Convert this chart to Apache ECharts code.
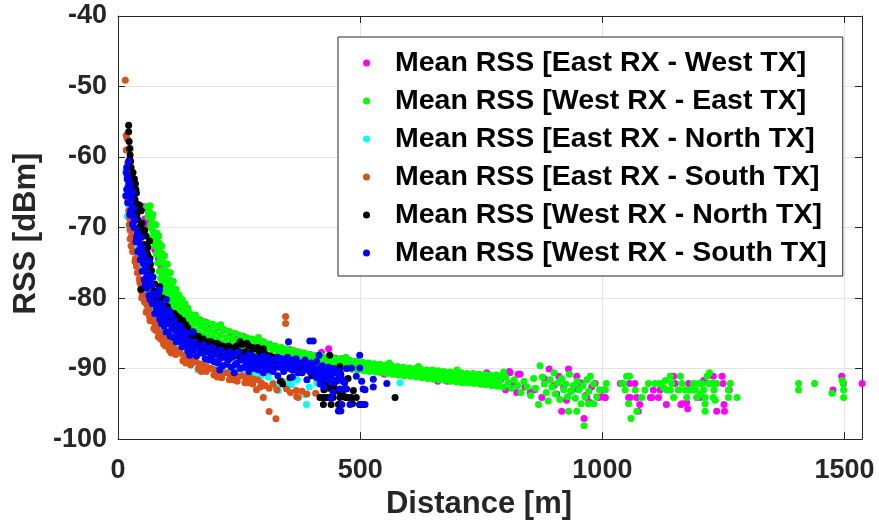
<!DOCTYPE html>
<html>
<head>
<meta charset="utf-8">
<script src="https://cdn.jsdelivr.net/npm/echarts@6/dist/echarts.min.js"></script>
<style>html,body{margin:0;padding:0;background:#fff}#chart{width:879px;height:525px}</style>
</head>
<body>
<div id="chart"></div>
<script>
// ---------- DATA (distance [m], RSS [dBm]) ----------
const seriesNames = [
  'Mean RSS [East RX - West TX]',
  'Mean RSS [West RX - East TX]',
  'Mean RSS [East RX - North TX]',
  'Mean RSS [East RX - South TX]',
  'Mean RSS [West RX - North TX]',
  'Mean RSS [West RX - South TX]'
];
const xTicks = [0, 500, 1000, 1500];
const yTicks = [-100, -90, -80, -70, -60, -50, -40];

const eastWest = [
  [52,-67.0],[57,-67.2],[55,-68.8],[60,-69.5],[66,-69.0],[70,-71.8],[79,-71.7],[76,-73.2],[83,-74.4],[88,-75.3],[94,-76.6],[100,-77.6],
  [106,-78.6],[112,-79.2],[118,-80.0],[124,-80.4],[130,-81.2],[137,-81.4],[145,-82.0],[153,-82.5],[161,-82.8],[170,-83.1],[180,-83.4],
  [192,-83.8],[205,-84.2],[218,-84.5],[232,-84.9],[246,-85.2],[258,-85.4],[270,-85.8],[284,-86.0],[298,-86.2],[312,-86.6],[326,-87.0],
  [340,-87.2],[355,-87.3],[368,-87.6],[382,-87.8],[396,-88.0],[410,-88.2],[420,-87.7],[435,-87.2],[448,-88.5],[462,-88.6],[476,-88.8],
  [490,-89.0],[504,-89.2],[518,-89.3],[532,-89.5],[546,-89.6],[560,-89.8],[574,-89.9],[588,-90.1],[602,-90.3],[616,-90.4],[630,-90.5],
  [644,-90.6],[658,-90.8],[672,-90.9],[686,-91.0],[700,-91.0],[714,-91.2],[728,-91.3],[742,-91.4],[759,-90.8],[761,-90.6],[775,-91.5],
  [790,-91.6],[808,-90.4],[809,-90.6],[826,-90.8],[830,-90.8],
  [150,-84.2],[250,-87.0],[350,-88.6],[450,-89.8],[550,-90.8],[660,-91.8],[680,-91.8],[750,-92.2],[800,-93.0],
  [815,-92.0],[840,-92.6],[860,-93.0],[880,-91.4],[900,-92.4],[920,-92.6],[935,-93.2],[955,-92.0],[965,-93.8],[978,-92.6],[998,-94.0],
  [890,-90.05],[930,-90.05],[916,-96.05],[962,-97.07],[910,-91.1],[947,-91.1],[992,-94.1],[1005,-94.1],[968,-94.1],[947,-92.9],
  [906,-93.6],[875,-94.1],[851,-93.4],[823,-93.4],[974,-94.8],[926,-94.5],[985,-92.1],[1006,-94.1],[1003,-93.05],
  [1037,-92.1],[1056,-92.1],[1054,-94.1],[1071,-94.1],[1077,-95.1],[1074,-96.05],[1099,-94.1],[1116,-94.1],[1132,-95.1],[1119,-93.05],
  [1147,-91.1],[1150,-92.1],[1162,-95.1],[1174,-94.8],[1176,-95.7],[1178,-92.1],[1202,-94.1],[1209,-91.7],[1229,-91.1],[1247,-91.1],
  [1249,-92.1],[1236,-96.05],[1252,-96.05],[1251,-95.1],[1262,-93.05],[1057,-94.1],[1067,-92.1],[1105,-93.05],[1102,-94.1],[1164,-95.0],
  [1178,-93.05],[1195,-94.1],[1494,-91.1],[1476,-93.05],[1498,-92.1],[1536,-92.1]
];

const westEast = [
  // upper edge of band
  [60,-67.0],[65,-67.8],[70,-68.6],[75,-69.6],[80,-70.8],[85,-72.2],[90,-73.6],[95,-75.0],[100,-76.2],[106,-77.4],[112,-78.4],[118,-79.2],
  [125,-80.0],[132,-80.8],[140,-81.6],[148,-82.2],[156,-82.6],[160,-82.4],[165,-83.0],[175,-83.3],[185,-83.5],[195,-83.7],[205,-84.0],[212,-83.8],
  [217,-84.4],[229,-84.7],[241,-85.0],[253,-85.3],[265,-85.6],[277,-85.8],[289,-86.0],[290,-85.6],[301,-86.2],[313,-86.5],[325,-86.8],
  [337,-87.0],[349,-87.2],[361,-87.4],[373,-87.6],[385,-87.8],[397,-88.0],[409,-88.1],[421,-88.2],[433,-88.4],[445,-88.5],[457,-88.6],
  [469,-88.8],[470,-88.4],[481,-88.9],[493,-89.0],[505,-89.1],[517,-89.2],[529,-89.3],[541,-89.4],[553,-89.5],[560,-89.2],[565,-89.6],
  [577,-89.7],[589,-89.8],[601,-89.9],[613,-90.0],[620,-89.7],[625,-90.1],[637,-90.2],[649,-90.2],[661,-90.3],[673,-90.4],[685,-90.5],
  [697,-90.5],[700,-90.2],[709,-90.6],[721,-90.7],[733,-90.7],[745,-90.8],[757,-90.8],[769,-90.9],[781,-90.9],[793,-91.0],[796,-90.5],
  // extra top edge in the knee
  [66,-66.9],[72,-68.2],[78,-69.6],[84,-71.2],[90,-72.6],[96,-74.0],[102,-75.2],[108,-76.4],[114,-77.6],[120,-78.8],[126,-79.6],
  [132,-80.2],[138,-80.8],[144,-81.4],
  // middle of band
  [63,-68.0],[68,-69.5],[73,-70.6],[78,-71.8],[83,-73.2],[88,-74.6],[93,-76.0],[98,-77.2],[103,-78.0],[109,-78.8],[115,-79.8],[121,-80.4],
  [128,-81.0],[136,-81.8],[144,-82.6],[152,-83.2],[160,-83.6],[170,-84.0],[180,-84.4],[190,-84.6],[200,-84.8],[211,-85.2],[223,-85.5],
  [235,-85.8],[247,-86.0],[259,-86.2],[271,-86.5],[283,-86.7],[295,-86.9],[307,-87.1],[319,-87.3],[331,-87.6],[343,-87.8],[355,-88.0],
  [367,-88.1],[379,-88.3],[391,-88.5],[403,-88.7],[415,-88.8],[427,-88.9],[439,-89.0],[451,-89.1],[463,-89.3],[475,-89.4],[487,-89.5],
  [499,-89.6],[511,-89.7],[523,-89.8],[535,-89.9],[547,-90.0],[559,-90.1],[571,-90.2],[583,-90.3],[595,-90.4],[607,-90.5],[619,-90.6],
  [631,-90.7],[643,-90.8],[655,-90.9],[667,-91.0],[679,-91.1],[691,-91.2],[703,-91.2],[715,-91.3],[727,-91.4],[739,-91.5],[751,-91.5],
  [763,-91.6],[775,-91.7],[787,-91.8],
  // lower edge of band
  [62,-68.5],[67,-70.0],[72,-71.4],[77,-72.6],[82,-73.8],[87,-75.0],[92,-76.4],[97,-77.6],[102,-78.6],[108,-79.6],[114,-80.4],[120,-81.2],
  [127,-82.0],[134,-82.8],[142,-83.6],[150,-84.2],[158,-84.6],[167,-85.0],[177,-85.3],[187,-85.5],[197,-85.7],[207,-86.0],[219,-86.3],
  [231,-86.6],[243,-86.9],[255,-87.1],[267,-87.3],[279,-87.5],[291,-87.7],[303,-87.9],[315,-88.1],[327,-88.3],[339,-88.5],[351,-88.7],
  [363,-88.8],[375,-89.0],[387,-89.1],[399,-89.3],[411,-89.4],[423,-89.5],[435,-89.6],[447,-89.7],[459,-89.9],[471,-90.0],[483,-90.1],
  [495,-90.2],[507,-90.3],[519,-90.4],[531,-90.5],[543,-90.6],[555,-90.7],[567,-90.8],[579,-90.9],[591,-91.0],[603,-91.1],[615,-91.2],
  [627,-91.3],[639,-91.4],[651,-91.5],[663,-91.6],[675,-91.7],[687,-91.8],[699,-91.9],[711,-92.0],[723,-92.0],[735,-92.1],[747,-92.2],
  [759,-92.3],[771,-92.4],[783,-92.5],[795,-92.6],
  // extra lower edge in the knee
  [72,-70.6],[76,-72.2],[79,-73.8],[82,-75.0],[85,-76.2],[88,-77.2],[91,-78.0],[94,-78.8],[97,-79.4],[100,-79.8],[104,-80.4],[108,-80.8],
  [112,-81.2],[116,-81.6],[121,-82.0],[126,-82.4],[131,-82.8],
  // scattered region 800-1010 m
  [800,-91.2],[805,-92.0],[812,-92.8],[818,-91.6],[825,-92.4],[832,-93.4],[838,-91.8],[845,-92.6],[852,-93.8],[858,-91.4],[862,-92.8],
  [868,-95.1],[871,-89.6],[876,-91.2],[880,-92.2],[884,-93.4],[888,-94.6],[892,-91.6],[896,-92.6],[900,-90.6],[903,-93.6],[908,-92.0],
  [912,-94.4],[916,-91.4],[920,-93.0],[924,-92.2],[928,-94.0],[930,-96.05],[932,-90.8],[936,-93.2],[940,-92.4],[944,-94.2],[947,-96.05],
  [948,-91.8],[952,-93.0],[956,-95.0],[960,-92.4],[962,-98.1],[964,-94.0],[968,-91.6],[971,-95.0],[972,-93.2],[975,-91.1],[982,-95.0],
  [982,-92.2],[988,-94.0],[994,-93.0],[1006,-93.05],[1008,-92.1],
  // far tail
  [1040,-92.1],[1044,-92.1],[1050,-91.1],[1056,-91.1],[1047,-93.05],[1054,-95.0],[1059,-97.07],[1068,-93.05],[1071,-96.05],[1081,-94.1],
  [1088,-93.05],[1095,-92.1],[1109,-92.1],[1119,-92.1],[1126,-92.7],[1130,-91.7],[1133,-93.05],[1140,-91.1],[1140,-93.05],[1147,-94.1],
  [1143,-92.1],[1157,-93.05],[1161,-91.1],[1164,-92.1],[1171,-93.05],[1174,-94.1],[1178,-93.05],[1185,-93.05],[1188,-92.1],[1192,-93.05],
  [1195,-94.1],[1198,-92.1],[1202,-93.6],[1205,-92.1],[1209,-93.05],[1212,-94.1],[1212,-96.05],[1212,-95.0],[1216,-91.1],[1219,-92.1],
  [1221,-90.6],[1226,-92.1],[1229,-94.1],[1230,-93.05],[1233,-92.1],[1236,-92.1],[1233,-94.5],[1260,-93.05],[1264,-92.1],[1260,-94.1],
  [1278,-94.1],[1405,-92.1],[1405,-93.05],[1438,-92.1],[1474,-93.5],[1495,-91.7],[1497,-92.1],[1498,-93.05],[1498,-94.1]
];

const eastNorth = [
  [26,-58.8],[19,-64.5],[19,-68.4],[28,-65.7],[16,-62.0],[22,-66.8],[24,-70.0],[30,-71.0],[34,-72.6],[40,-74.0],[46,-76.0],[52,-77.6],
  [58,-79.0],[64,-80.2],[70,-81.4],[76,-82.4],[84,-83.6],[92,-84.4],[100,-85.2],[110,-86.0],[120,-86.8],[130,-87.4],[140,-88.0],
  [150,-88.6],[160,-89.2],[165,-90.2],[169,-90.2],[180,-89.6],[190,-90.0],[200,-89.8],[215,-90.2],[230,-90.4],[245,-90.2],[255,-90.1],
  [265,-90.6],[280,-90.8],[295,-91.0],[310,-91.2],[317,-90.4],[320,-92.0],[327,-92.7],[331,-93.1],[340,-91.8],[350,-92.0],[355,-91.8],
  [358,-92.3],[370,-91.6],[386,-93.7],[389,-95.1],[395,-92.6],[410,-92.0],[430,-92.4],[582,-92.0]
];

const eastSouth = [
  [15,-49.1],[17,-56.9],[19,-57.4],[17,-59.0],[20,-60.8],[18,-62.4],[21,-63.9],[23,-65.0],[26,-66.4],[24,-68.7],[28,-69.1],[25,-70.4],
  [28,-71.2],[31,-72.0],[34,-71.9],[33,-73.4],[36,-74.4],[38,-75.5],[41,-76.4],[44,-77.3],[47,-78.0],[50,-78.8],[53,-79.6],[49,-80.0],
  [56,-80.4],[60,-81.0],[58,-82.0],[64,-81.6],[68,-82.4],[66,-83.2],[72,-82.8],[76,-83.6],[74,-84.3],[80,-84.2],[85,-84.8],[83,-85.5],
  [90,-85.4],[96,-85.8],[94,-86.5],[102,-86.2],[108,-86.6],[106,-87.4],[114,-87.0],[121,-87.4],[119,-88.0],[128,-87.8],[136,-88.2],
  [134,-88.9],[144,-88.5],[152,-88.8],[150,-89.5],[160,-89.0],[168,-89.3],[166,-90.0],[176,-89.5],[184,-89.8],[182,-90.4],[192,-90.0],
  [200,-90.2],[198,-90.9],[208,-90.3],[216,-90.6],[214,-91.3],[224,-90.6],[232,-90.9],[230,-91.6],[240,-90.8],[248,-91.1],[246,-91.8],
  [256,-91.0],[264,-91.3],[262,-92.0],[272,-91.2],[280,-91.5],[278,-92.2],[288,-91.6],[286,-93.0],[296,-92.0],[294,-92.6],[300,-94.1],
  [304,-92.4],[312,-96.1],[326,-97.1],[312,-92.8],[320,-92.2],[328,-93.0],[338,-91.8],[346,-82.6],[346,-83.6],[348,-92.9],[356,-93.4],
  [368,-93.1],[369,-94.0],[372,-94.1],[380,-93.2],[390,-93.6],[408,-93.5],
  [20,-66.0],[22,-67.6],[23,-69.6],[25,-71.6],[27,-72.6],[30,-73.4],[35,-74.8],[40,-76.4],[45,-77.8],[50,-79.4],[55,-80.6],[60,-81.8],
  [65,-82.6],[70,-83.2],[78,-84.6],[88,-85.8],[98,-86.8],[110,-87.8],[140,-89.2],[172,-90.4],[205,-91.2],[238,-91.6],[270,-92.0]
];

const westNorth = [
  [22,-55.5],[22,-56.4],[25,-59.7],[21,-61.3],[24,-60.4],[27,-61.5],[29,-62.8],[31,-62.2],[33,-63.6],[34,-63.1],[36,-63.8],[37,-64.6],
  [38,-65.1],[38,-66.6],[41,-67.2],[44,-66.8],[48,-67.6],[41,-68.9],[46,-69.8],[52,-71.0],[55,-70.4],[58,-71.2],[62,-72.8],[65,-71.9],
  [60,-73.6],[66,-74.4],[69,-76.1],[64,-75.3],[72,-77.0],[47,-78.8],[76,-78.0],[79,-79.8],[86,-78.4],[83,-80.4],[89,-80.9],[93,-81.1],
  [96,-81.8],[100,-82.3],[104,-82.8],[108,-82.0],[114,-83.2],[120,-82.5],[124,-84.0],[128,-83.4],[134,-83.2],[138,-84.6],[144,-84.2],
  [150,-85.0],[155,-84.8],[160,-86.0],[166,-85.4],[172,-86.6],[176,-85.8],[182,-86.8],[188,-86.2],[190,-86.9],[196,-86.4],[202,-87.4],
  [208,-86.6],[214,-87.6],[220,-87.0],[226,-88.0],[232,-87.0],[238,-88.0],[244,-86.8],[250,-87.6],[256,-86.6],[262,-87.6],[266,-86.4],
  [272,-87.8],[278,-87.0],[286,-88.5],[292,-87.6],[298,-88.6],[305,-88.0],[312,-89.0],[320,-88.4],[328,-89.4],[335,-91.8],[340,-92.2],
  [345,-89.0],[355,-91.3],[365,-89.6],[375,-90.2],[385,-89.8],[396,-90.4],[405,-90.8],[415,-91.4],[424,-94.1],[430,-92.2],[437,-94.1],
  [437,-89.9],[437,-88.1],[444,-94.1],[451,-91.8],[458,-94.1],[458,-89.7],[468,-92.9],[482,-94.1],[486,-93.1],[492,-94.1],[499,-95.1],
  [506,-95.1],[424,-95.1],[572,-94.1],[417,-94.1],[430,-94.1],[450,-93.0],[475,-91.4],[460,-90.8],[445,-90.6],
  [150,-86.0],[156,-85.6],[162,-86.8],[168,-86.0],[174,-87.2],[180,-86.4],[186,-87.6],[192,-86.2],[198,-87.8],[204,-86.4],[210,-88.0],
  [216,-86.8],[222,-88.4],[228,-86.8],[234,-88.4],[240,-87.4],[246,-88.2],[252,-86.2],[258,-87.8],[264,-88.4],[270,-86.8],[276,-88.2],
  [282,-87.2],[288,-87.0],[294,-88.2],[300,-87.2],[306,-89.0],[314,-88.2],[322,-89.4],[330,-88.8],[338,-89.6],[350,-89.4],[360,-90.2],
  [370,-89.8],[380,-90.6],[390,-90.0],[400,-91.0],[410,-90.4],[420,-91.8],[425,-93.0],[435,-92.8],[445,-92.4],[455,-93.2],[465,-93.8],
  [475,-94.1],[484,-95.0],[455,-95.1],[470,-94.1],[440,-95.1],
  [23,-57.8],[24,-58.8],[26,-60.6],[28,-63.4],[30,-64.2],[32,-65.4],[35,-66.0],[36,-67.8],[39,-68.2],[43,-70.0],[48,-70.6],[50,-69.4],
  [54,-72.4],[57,-73.4],[62,-74.0],[67,-75.2],[70,-78.0],[74,-79.0],[78,-80.6],[84,-79.2],[88,-82.0],[92,-80.0],[98,-83.0],[102,-81.2],
  [110,-83.8],[116,-82.2],[120,-84.6],[126,-82.8],[132,-84.8],[140,-83.8],[146,-85.4]
];

const westSouth = [
  [17,-62.2],[22,-60.6],[19,-63.1],[16,-65.5],[21,-64.3],[24,-65.2],[28,-66.0],[31,-65.0],[26,-67.6],[32,-67.3],[34,-68.6],[30,-69.5],
  [36,-70.1],[38,-71.4],[42,-72.0],[48,-71.4],[45,-73.0],[48,-73.8],[52,-75.1],[55,-76.0],[59,-77.0],[56,-78.2],[63,-78.3],[69,-79.5],
  [66,-80.2],[73,-80.6],[79,-81.4],[76,-82.2],[83,-82.3],[86,-83.0],[90,-83.6],[95,-84.0],[99,-84.8],[103,-84.8],[108,-85.4],[114,-85.6],
  [120,-86.2],[118,-84.6],[126,-85.5],[132,-86.9],[138,-86.3],[144,-87.5],[148,-88.1],[150,-86.6],[156,-87.4],[162,-88.2],[168,-86.8],
  [174,-87.8],[180,-88.6],[186,-87.2],[192,-88.2],[198,-89.0],[204,-87.6],[210,-88.6],[216,-89.6],[222,-87.8],[228,-88.8],[234,-89.8],
  [240,-88.0],[246,-89.2],[252,-90.0],[258,-88.4],[264,-89.4],[270,-88.0],[276,-89.0],[282,-90.0],[288,-88.6],[294,-89.6],[300,-88.2],
  [306,-89.2],[312,-90.2],[318,-88.8],[324,-89.8],[330,-88.4],[336,-89.4],[342,-90.4],[348,-89.0],[354,-90.0],[360,-88.8],[366,-89.6],
  [372,-90.6],[378,-89.2],[384,-90.2],[390,-89.4],[396,-90.4],[402,-89.6],[408,-91.0],[414,-90.0],[420,-91.4],[426,-90.2],[432,-91.6],
  [438,-90.4],[444,-92.0],[450,-90.6],[456,-91.4],[352,-86.2],[396,-86.1],[403,-86.1],[415,-88.1],[417,-92.2],[410,-91.3],[425,-92.6],
  [444,-93.4],[458,-92.9],[468,-92.0],[472,-92.9],[461,-91.3],[472,-90.0],[482,-89.9],[492,-91.1],[499,-89.9],[499,-88.1],[503,-91.8],
  [506,-92.9],[510,-93.0],[527,-91.5],[527,-92.6],[555,-92.1],[479,-95.1],[499,-95.1],[503,-95.1],[510,-95.1],[455,-96.0],[460,-96.0],
  [462,-95.1],[440,-94.2],[390,-91.6],[360,-91.2],[330,-91.0],[300,-90.6],[270,-90.4],[240,-90.6],[210,-90.2],
  [18,-61.5],[20,-62.8],[23,-63.6],[18,-64.6],[25,-64.0],[20,-66.5],[27,-65.4],[29,-67.0],[24,-68.2],[31,-68.4],[33,-70.0],[35,-69.0],
  [37,-72.0],[40,-70.8],[43,-71.2],[41,-73.4],[46,-72.4],[50,-72.8],[46,-74.6],[52,-73.6],[50,-76.2],[55,-74.4],[58,-75.6],[54,-77.4],
  [61,-76.4],[60,-78.6],[65,-74.7],[66,-77.6],[64,-79.6],[70,-78.2],[72,-77.0],[71,-80.8],[76,-79.4],[78,-80.6],[82,-79.6],[86,-78.8],
  [84,-81.8],[88,-80.8],[90,-82.4],[94,-81.4],[96,-83.2],[100,-80.2],[100,-82.4],[104,-83.6],[106,-81.8],[110,-82.5],[111,-84.4],
  [116,-83.2],[122,-84.0],[124,-85.0],[128,-83.9],[130,-86.2],[134,-84.6],[136,-85.6],[142,-85.0],[140,-86.8],[146,-86.0],[155,-84.8],
  [152,-87.4],[158,-86.2],[164,-87.0],[170,-87.8],[176,-86.6],[182,-87.6],[188,-88.8],[194,-87.0],[200,-88.0],[206,-89.2],[212,-87.4],
  [218,-88.4],[224,-89.4],[230,-87.6],[236,-88.4],[242,-89.4],[248,-87.6],[254,-88.8],[260,-89.8],[266,-88.6],[272,-89.6],[278,-88.2],
  [284,-89.2],[290,-90.2],[296,-88.8],[302,-89.8],[308,-88.4],[314,-89.4],[320,-90.4],[326,-88.8],[332,-89.8],[338,-88.6],[344,-89.6],
  [350,-88.4],[356,-89.2],[362,-90.2],[368,-88.6],[374,-89.4],[380,-90.4],[386,-88.8],[392,-90.0],[398,-89.2],[404,-90.2],[410,-89.0],
  [416,-90.6],[422,-89.6],[428,-91.0],[434,-89.8],[440,-91.2],[446,-90.0],[452,-91.6],[458,-90.4],[464,-91.8]
];

const seriesData = [eastWest, westEast, eastNorth, eastSouth, westNorth, westSouth];
const seriesColors = ['#ff00ff', '#00ff00', '#00ffff', '#d95319', '#000000', '#0000ff'];

// ---------- CHART ----------
const FONT = 'Liberation Sans, Arial, Helvetica, sans-serif';
const AX = '#262626';
const chart = echarts.init(document.getElementById('chart'), null, {renderer: 'canvas'});

function axisBase(extra) {
  return Object.assign({
    type: 'value',
    axisLine: {show: true, onZero: false, lineStyle: {color: AX, width: 1}},
    axisTick: {show: true, inside: true, length: 7, lineStyle: {color: AX, width: 1}},
    splitLine: {show: false},
    axisLabel: {show: false}
  }, extra);
}

const xMin = xTicks[0], xMax = 1536;
const yMin = yTicks[0], yMax = yTicks[yTicks.length - 1];

chart.setOption({
  animation: false,
  backgroundColor: '#ffffff',
  grid: {left: 118, right: 17, top: 16, bottom: 76, containLabel: false},
  legend: {
    orient: 'vertical', left: 338, top: 37,
    padding: [9, 16, 6, 25], itemGap: 4, itemWidth: 7, itemHeight: 7, icon: 'circle',
    backgroundColor: '#ffffff', borderColor: AX, borderWidth: 1, borderRadius: 0,
    textStyle: {fontFamily: FONT, fontSize: 28.5, fontWeight: 'bold', color: '#000', padding: [0, 0, 0, 20], lineHeight: 34},
    data: seriesNames
  },
  xAxis: [
    axisBase({
      position: 'bottom', min: xMin, max: xMax, interval: 500,
      splitLine: {show: true, lineStyle: {color: '#e3e3e3', width: 1}},
      axisLabel: {show: true, showMaxLabel: false, margin: 18, color: AX, fontFamily: FONT, fontSize: 27, fontWeight: 'bold',
        formatter: v => String(v)},
      name: 'Distance [m]', nameLocation: 'middle', nameGap: 39,
      nameTextStyle: {color: AX, fontFamily: FONT, fontSize: 31, fontWeight: 'bold', padding: [0, 22, 0, 0]}
    }),
    axisBase({position: 'top', min: xMin, max: xMax, interval: 500})
  ],
  yAxis: [
    axisBase({
      position: 'left', min: yMin, max: yMax, interval: 10,
      splitLine: {show: true, lineStyle: {color: '#e3e3e3', width: 1}},
      axisLabel: {show: true, margin: 11, color: AX, fontFamily: FONT, fontSize: 27, fontWeight: 'bold',
        formatter: v => String(v)},
      name: 'RSS [dBm]', nameLocation: 'middle', nameGap: 76,
      nameTextStyle: {color: AX, fontFamily: FONT, fontSize: 31, fontWeight: 'bold', padding: [0, 12, 0, 0]}
    }),
    axisBase({position: 'right', min: yMin, max: yMax, interval: 10})
  ],
  series: seriesNames.map((name, i) => ({
    name: name,
    type: 'scatter',
    xAxisIndex: 0, yAxisIndex: 0,
    data: seriesData[i],
    symbol: 'circle', symbolSize: 7,
    clip: false,
    itemStyle: {color: seriesColors[i], opacity: 1},
    emphasis: {disabled: true}
  }))
});
</script>
</body>
</html>
